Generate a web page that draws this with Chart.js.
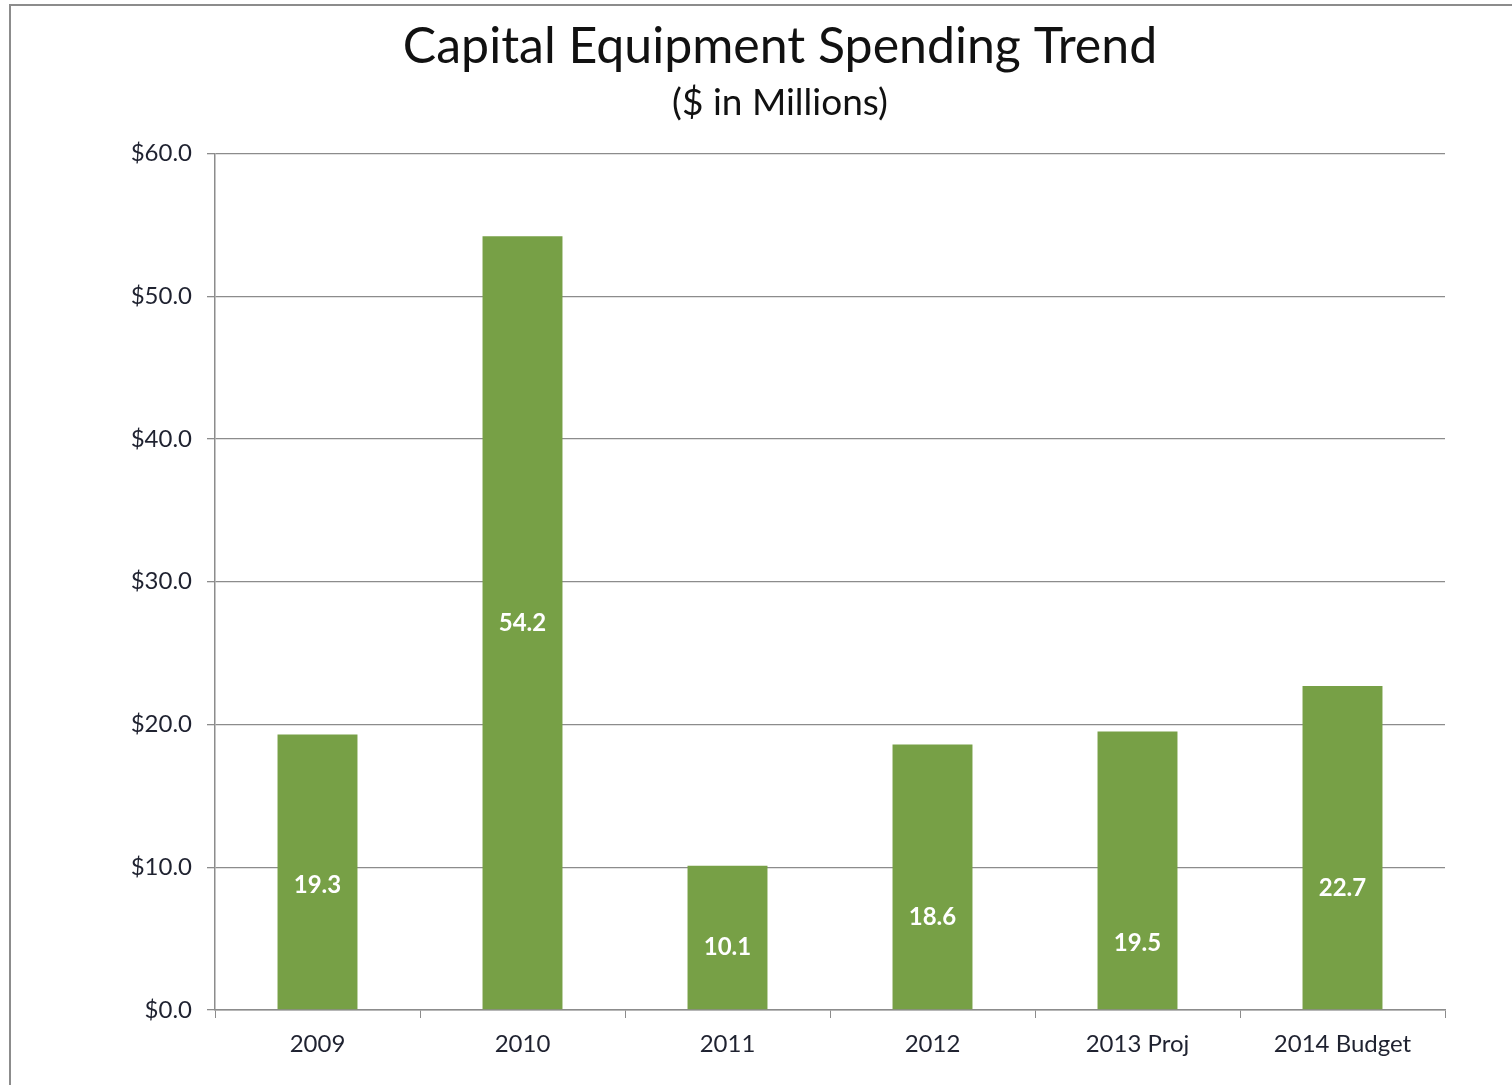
<!DOCTYPE html>
<html>
<head>
<meta charset="utf-8">
<script src="https://cdn.jsdelivr.net/npm/chart.js@4.4.1/dist/chart.umd.min.js"></script>
<style>
    html, body { margin: 0; padding: 0; background: #fff; overflow: hidden; }
    #wrap { position: relative; width: 1512px; height: 1085px; }
    #frame { position: absolute; left: 9px; top: 4px; width: 1600px; height: 1200px; border: 2px solid #8c8c8c; box-sizing: border-box; }
    #spend { position: absolute; left: 0; top: 0; }
</style>
</head>
<body>
<div id="wrap">
    <div id="frame"></div>
    <canvas id="spend" width="1512" height="1085"></canvas>
</div>
<script>
var years = ["2009", "2010", "2011", "2012", "2013 Proj", "2014 Budget"];
var spending = [19.3, 54.2, 10.1, 18.6, 19.5, 22.7];
// where each value label sits inside its bar, in $M on the y scale
var labelAt = [8.75, 27.1, 4.4, 6.5, 4.7, 8.5];
var yTicks = [0, 10, 20, 30, 40, 50, 60];

var barLabels = {
    id: "barLabels",
    afterDatasetsDraw: function(chart){
        var ctx = chart.ctx;
        var yScale = chart.scales.y;
        var bars = chart.getDatasetMeta(0).data;
        ctx.save();
        ctx.fillStyle = "#ffffff";
        ctx.font = "bold 24px Lato";
        ctx.textAlign = "center";
        ctx.textBaseline = "middle";
        for(var i = 0; i < bars.length; i++){
            ctx.fillText(spending[i].toFixed(1), bars[i].x, yScale.getPixelForValue(labelAt[i]));
        }
        ctx.restore();
    }
};

var ctx = document.getElementById("spend").getContext("2d");
var spendChart = new Chart(ctx, {
    type: "bar",
    data: {
        labels: years,
        datasets: [
            {
                label: "Capital Equipment",
                data: spending,
                backgroundColor: "#77a046",
                borderWidth: 0,
                categoryPercentage: 1,
                barPercentage: 0.39
            }
        ]
    },
    options: {
        responsive: false,
        animation: false,
        layout: {
            padding: {top: 17, right: 67, bottom: 0, left: 115}
        },
        plugins: {
            legend: {display: false},
            tooltip: {enabled: false},
            title: {
                display: true,
                text: "Capital Equipment Spending Trend",
                color: "#111111",
                font: {family: "Lato", size: 50, weight: "normal"},
                padding: {top: 0, bottom: 4}
            },
            subtitle: {
                display: true,
                text: "($ in Millions)",
                color: "#111111",
                font: {family: "Lato", size: 37, weight: "normal"},
                padding: {top: 0, bottom: 28}
            }
        },
        scales: {
            x: {
                offset: true,
                grid: {
                    offset: true,
                    drawOnChartArea: false,
                    drawTicks: true,
                    tickLength: 8,
                    color: "#8c8c8c"
                },
                border: {display: true, color: "#8c8c8c", width: 1.5},
                ticks: {
                    color: "#1f2230",
                    font: {family: "Lato", size: 24},
                    padding: 12
                },
                afterFit: function(scale){ scale.height = 75; }
            },
            y: {
                min: 0,
                max: 60,
                afterBuildTicks: function(scale){
                    scale.ticks = yTicks.map(function(v){ return {value: v}; });
                },
                grid: {
                    color: "#8c8c8c",
                    lineWidth: 1.3,
                    tickLength: 8
                },
                border: {display: true, color: "#8c8c8c", width: 1.5},
                ticks: {
                    color: "#1f2230",
                    font: {family: "Lato", size: 24},
                    padding: 15,
                    callback: function(v){ return "$" + Number(v).toFixed(1); }
                },
                afterFit: function(scale){ scale.width = 100; }
            }
        }
    },
    plugins: [barLabels]
});
</script>
</body>
</html>
